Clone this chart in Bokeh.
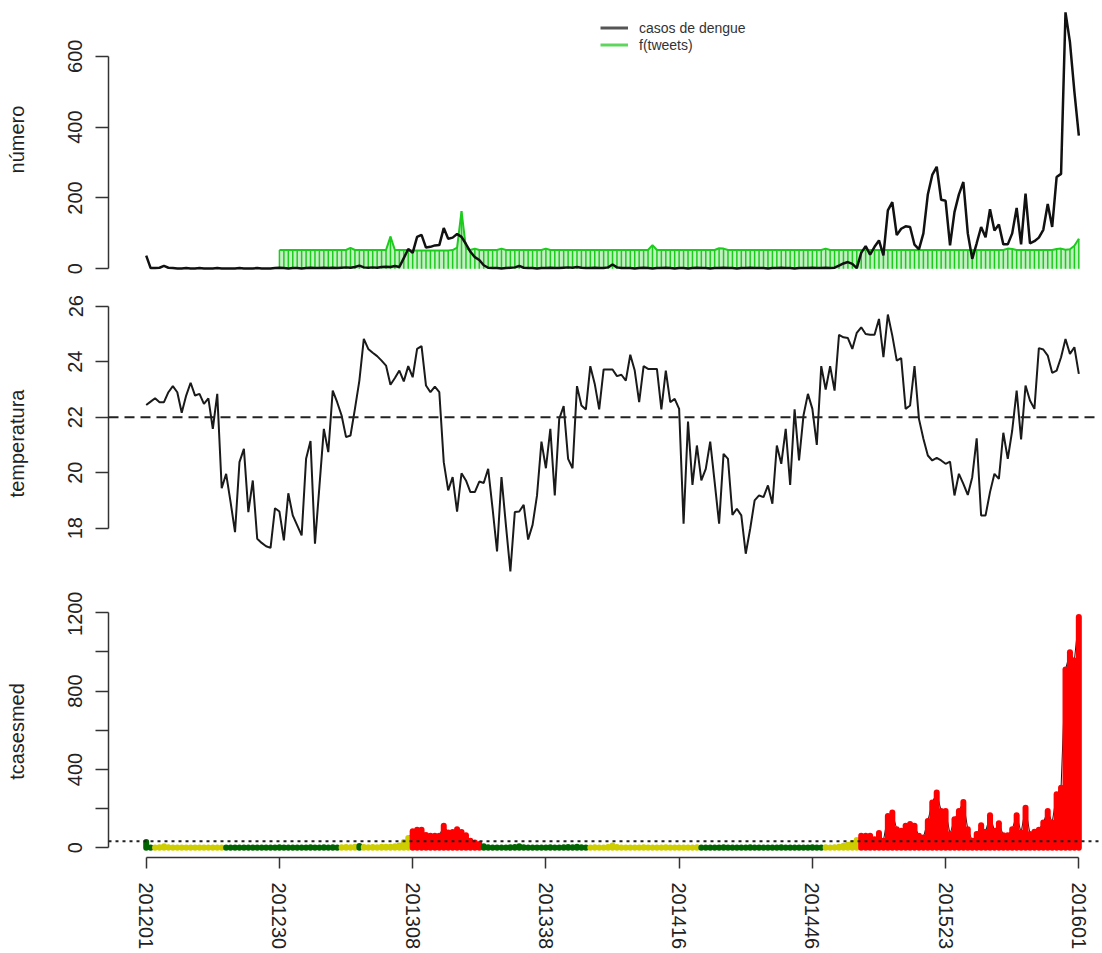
from bokeh.plotting import figure
from bokeh.models import ColumnDataSource, Range1d, FixedTicker, Span, Legend, LegendItem
from bokeh.layouts import column
from bokeh.embed import file_html
from bokeh.resources import INLINE

# ---------------- data ----------------
tick_weeks = [0, 30, 60, 90, 120, 150, 180, 210]
tick_labels = ["201201", "201230", "201308", "201338", "201416", "201446", "201523", "201601"]

casos = [
    37, 2, 2, 3, 8, 3, 2, 1, 1, 2,
    1, 1, 2, 1, 1, 1, 2, 1, 1, 1,
    1, 2, 1, 1, 1, 2, 1, 1, 1, 2,
    3, 2, 1, 2, 2, 1, 2, 3, 2, 2,
    3, 2, 3, 2, 3, 4, 3, 5, 9, 4,
    3, 4, 3, 5, 6, 5, 8, 5, 30, 56,
    45, 90, 96, 60, 62, 66, 67, 115, 85, 88,
    98, 90, 70, 48, 33, 25, 10, 3, 2, 2,
    1, 2, 3, 4, 8, 3, 2, 2, 1, 2,
    2, 3, 2, 2, 3, 4, 3, 5, 3, 2,
    2, 3, 2, 2, 4, 12, 4, 2, 2, 2,
    1, 2, 3, 2, 1, 2, 2, 3, 2, 1,
    2, 2, 1, 2, 3, 2, 2, 1, 2, 2,
    3, 2, 2, 1, 2, 2, 3, 2, 2, 2,
    1, 2, 2, 3, 2, 2, 1, 2, 2, 2,
    3, 2, 2, 3, 2, 3, 9, 15, 19, 14,
    2, 45, 64, 40, 62, 80, 38, 165, 188, 95,
    113, 120, 118, 68, 55, 100, 210, 265, 288, 195,
    192, 66, 160, 210, 245, 100, 28, 72, 118, 89,
    168, 108, 125, 69, 69, 100, 172, 69, 212, 72,
    78, 88, 110, 183, 118, 259, 268, 724, 640, 500,
    376,
]

tweets = [None] * 30 + [
    53, 53, 53, 53, 53, 53, 53, 53, 53, 53,   # 30
    53, 53, 53, 53, 53, 53, 59, 53, 53, 53,   # 40
    53, 53, 53, 53, 53, 91, 53, 53, 53, 53,   # 50
    52, 52, 52, 52, 52, 52, 52, 52, 52, 53,   # 60
    60, 163, 58, 53, 57, 53, 53, 53, 53, 53,  # 70
    57, 53, 53, 53, 53, 53, 53, 53, 53, 53,   # 80
    57, 53, 53, 53, 53, 53, 53, 53, 53, 53,   # 90
    53, 53, 53, 53, 53, 53, 53, 53, 53, 53,   # 100
    53, 53, 53, 53, 67, 53, 53, 53, 53, 53,   # 110
    53, 53, 53, 53, 53, 53, 53, 53, 53, 58,   # 120
    57, 53, 53, 53, 53, 53, 53, 53, 53, 53,   # 130
    53, 53, 53, 53, 53, 53, 53, 53, 53, 53,   # 140
    53, 53, 53, 57, 53, 53, 53, 53, 53, 53,   # 150
    53, 53, 53, 53, 53, 53, 53, 53, 53, 53,   # 160
    53, 53, 53, 53, 53, 53, 53, 53, 53, 53,   # 170
    53, 53, 53, 53, 53, 53, 53, 53, 53, 53,   # 180
    53, 53, 53, 53, 57, 56, 53, 53, 53, 53,   # 190
    53, 53, 53, 53, 53, 56, 57, 54, 55, 65,   # 200
    85,                                       # 210
]

temperatura = [
    22.44, 22.56, 22.68, 22.54, 22.54, 22.90, 23.12, 22.90, 22.16, 22.78,
    23.24, 22.78, 22.84, 22.48, 22.68, 21.58, 22.84, 19.44, 19.96, 18.94,
    17.86, 20.38, 20.86, 18.58, 19.72, 17.62, 17.47, 17.35, 17.29, 18.72,
    18.60, 17.56, 19.26, 18.46, 18.10, 17.74, 20.50, 21.14, 17.44, 19.50,
    21.58, 20.74, 22.96, 22.54, 22.06, 21.28, 21.34, 22.30, 23.32, 24.82,
    24.46, 24.32, 24.20, 24.04, 23.86, 23.17, 23.41, 23.68, 23.29, 23.84,
    23.44, 24.46, 24.56, 23.14, 22.90, 23.10, 22.90, 20.38, 19.36, 19.84,
    18.60, 19.98, 19.72, 19.30, 19.30, 19.68, 19.63, 20.14, 18.70, 17.16,
    19.84, 18.10, 16.44, 18.58, 18.60, 18.84, 17.59, 18.12, 19.18, 21.12,
    20.16, 21.58, 19.18, 21.94, 22.40, 20.50, 20.16, 23.12, 22.42, 22.28,
    23.84, 23.20, 22.28, 23.72, 23.72, 23.72, 23.48, 23.53, 23.32, 24.25,
    23.68, 22.54, 23.84, 23.74, 23.74, 23.74, 22.28, 23.68, 22.54, 22.66,
    22.30, 18.16, 21.84, 19.56, 20.98, 19.72, 20.14, 21.12, 19.66, 18.16,
    20.68, 20.50, 18.48, 18.70, 18.46, 17.08, 17.98, 19.00, 19.18, 19.12,
    19.54, 18.88, 20.98, 20.32, 21.58, 19.56, 22.28, 20.44, 22.06, 22.84,
    22.30, 21.00, 23.84, 23.00, 23.84, 22.96, 24.97, 24.88, 24.85, 24.46,
    25.04, 25.24, 25.00, 24.97, 24.97, 25.54, 24.16, 25.70, 24.94, 24.04,
    24.13, 22.30, 22.42, 23.84, 21.94, 21.22, 20.62, 20.44, 20.53, 20.44,
    20.32, 20.40, 19.18, 19.96, 19.60, 19.20, 19.84, 21.24, 18.46, 18.46,
    19.30, 19.96, 19.78, 21.44, 20.50, 21.52, 22.96, 21.20, 23.14, 22.60,
    22.30, 24.49, 24.44, 24.22, 23.60, 23.68, 24.16, 24.82, 24.28, 24.52,
    23.56,
]

tcasesmed = [
    30, 2, 2, 3, 8, 3, 2, 1, 1, 2,
    1, 1, 2, 1, 1, 1, 2, 1, 1, 1,
    1, 2, 1, 1, 1, 2, 1, 1, 1, 2,
    3, 2, 1, 2, 2, 1, 2, 3, 2, 2,
    3, 2, 3, 2, 3, 4, 3, 5, 9, 4,
    3, 4, 3, 5, 6, 5, 8, 12, 30, 50,
    85, 92, 92, 66, 61, 62, 62, 112, 78, 81,
    95, 81, 64, 36, 27, 19, 8, 3, 2, 2,
    1, 2, 3, 4, 8, 3, 2, 2, 1, 2,
    2, 3, 2, 2, 3, 4, 3, 5, 3, 2,
    2, 3, 2, 2, 4, 12, 4, 2, 2, 2,
    1, 2, 3, 2, 1, 2, 2, 3, 2, 1,
    2, 2, 1, 2, 3, 2, 2, 1, 2, 2,
    3, 2, 2, 1, 2, 2, 3, 2, 2, 2,
    1, 2, 2, 3, 2, 2, 1, 2, 2, 2,
    3, 2, 2, 3, 2, 3, 6, 10, 15, 25,
    40, 61, 61, 61, 44, 75, 36, 163, 180, 95,
    87, 112, 121, 112, 61, 53, 137, 231, 282, 188,
    188, 70, 146, 188, 234, 95, 36, 70, 115, 82,
    166, 87, 126, 64, 64, 95, 166, 78, 205, 70,
    82, 92, 129, 188, 129, 273, 307, 910, 998, 957,
    1178,
]

# alert level per week as run-lengths: (level, number of weeks); 0 green, 1 yellow, 2 red
alert_runs = [(0, 2), (1, 16), (0, 26), (1, 4), (0, 1), (1, 11), (2, 16),
              (0, 24), (1, 25), (0, 28), (1, 8), (2, 50)]

temp_reference = 22
cases_threshold = 33

# ---------------- styles ----------------
FONT = "Liberation Sans"
TEXT = "#222222"
AXIS = "#333333"
level_colors = ["#006400", "#CDCD00", "#FF0000"]
NAN = float("nan")

n = len(casos)
weeks = list(range(n))
levels = [lvl for lvl, cnt in alert_runs for _ in range(cnt)]

x_range = Range1d(-8.49, 214.88)


def style_y(p, ticks, bounds, label, overrides=None):
    p.grid.visible = False
    p.outline_line_color = None
    p.background_fill_color = "white"
    p.border_fill_color = "white"
    ax = p.yaxis[0]
    ax.ticker = FixedTicker(ticks=ticks)
    ax.bounds = bounds
    if overrides:
        ax.major_label_overrides = overrides
    ax.axis_label = label
    ax.axis_label_text_font = FONT
    ax.axis_label_text_font_size = "20px"
    ax.axis_label_text_font_style = "normal"
    ax.axis_label_text_color = TEXT
    ax.axis_label_standoff = 38
    ax.major_label_text_font = FONT
    ax.major_label_text_font_size = "20px"
    ax.major_label_text_color = TEXT
    ax.major_label_orientation = "vertical"
    ax.major_label_standoff = 13
    ax.axis_line_color = AXIS
    ax.axis_line_width = 1.5
    ax.major_tick_line_color = AXIS
    ax.major_tick_line_width = 1.5
    ax.major_tick_out = 13
    ax.major_tick_in = 0
    ax.minor_tick_out = 0
    ax.minor_tick_in = 0


common = dict(width=1100, x_range=x_range, output_backend="svg", toolbar_location=None,
              min_border_left=108, min_border_right=0)

# ---- panel 1: cases and tweets ----
p1 = figure(height=290, y_range=Range1d(-27.4, 757.5), x_axis_location=None,
            min_border_top=0, min_border_bottom=12, **common)
style_y(p1, [0, 200, 400, 600], (0, 600), "número")

tw_x = [w for w, t in zip(weeks, tweets) if t is not None]
tw_y = [t for t in tweets if t is not None]
tw_src = ColumnDataSource(dict(x=tw_x, y=tw_y, z=[0] * len(tw_x)))
p1.varea(x="x", y1="z", y2="y", source=tw_src, fill_color="#c4efc4", fill_alpha=1.0)
p1.segment(x0="x", y0="z", x1="x", y1="y", source=tw_src, line_color="#1ccc1c", line_width=1.5)
p1.line(x="x", y="y", source=tw_src, line_color="#1ccc1c", line_width=2)
p1.line(x=weeks, y=casos, line_color="#111111", line_width=2.5)

leg_cases = p1.line(x=[NAN], y=[NAN], line_color="#555555", line_width=3)
leg_tweets = p1.line(x=[NAN], y=[NAN], line_color="#5ed65e", line_width=3)
legend = Legend(items=[LegendItem(label="casos de dengue", renderers=[leg_cases]),
                       LegendItem(label="f(tweets)", renderers=[leg_tweets])],
                location=(492, 225), orientation="vertical", padding=0, spacing=0, margin=0,
                glyph_width=28, glyph_height=17, label_height=17, label_standoff=11,
                label_text_font=FONT, label_text_font_size="14px", label_text_color="#333333",
                border_line_alpha=0, background_fill_alpha=0)
p1.add_layout(legend)

# ---- panel 2: temperature ----
p2 = figure(height=301, y_range=Range1d(16.043, 26.061), x_axis_location=None,
            min_border_top=14, min_border_bottom=9, **common)
style_y(p2, [18, 20, 22, 24, 26], (18, 26), "temperatura")
p2.add_layout(Span(location=temp_reference, dimension="width", line_color="#222222",
                   line_width=2, line_dash="10 6"))
p2.line(x=weeks, y=temperatura, line_color="#1a1a1a", line_width=2)

# ---- panel 3: estimated cases by alert level ----
p3 = figure(height=362, y_range=Range1d(-49.5, 1237.3),
            min_border_top=14, min_border_bottom=96, **common)
style_y(p3, [0, 200, 400, 600, 800, 1000, 1200], (0, 1200), "tcasesmed",
        overrides={200: "", 600: "", 1000: ""})
bar_src = ColumnDataSource(dict(x=weeks, v=tcasesmed, z=[0] * n,
                                c=[level_colors[l] for l in levels]))
p3.line(x="x", y="v", source=bar_src, line_color="#111111", line_width=1)
p3.segment(x0="x", y0="z", x1="x", y1="v", source=bar_src, line_color="c",
           line_width=6, line_cap="round")
p3.add_layout(Span(location=cases_threshold, dimension="width", line_color="#222222",
                   line_width=2, line_dash="3 4"))

xa = p3.xaxis[0]
xa.ticker = FixedTicker(ticks=tick_weeks)
xa.major_label_overrides = {w: lab for w, lab in zip(tick_weeks, tick_labels)}
xa.bounds = (tick_weeks[0], tick_weeks[-1])
xa.major_label_orientation = "vertical"
xa.major_label_text_font = FONT
xa.major_label_text_font_size = "20px"
xa.major_label_text_color = TEXT
xa.major_label_standoff = 14
xa.axis_line_color = AXIS
xa.axis_line_width = 1.5
xa.major_tick_line_color = AXIS
xa.major_tick_line_width = 1.5
xa.major_tick_out = 11
xa.major_tick_in = 0
xa.minor_tick_out = 0
xa.minor_tick_in = 0

layout = column(p1, p2, p3)
open("out.html", "w").write(file_html(layout, INLINE))
